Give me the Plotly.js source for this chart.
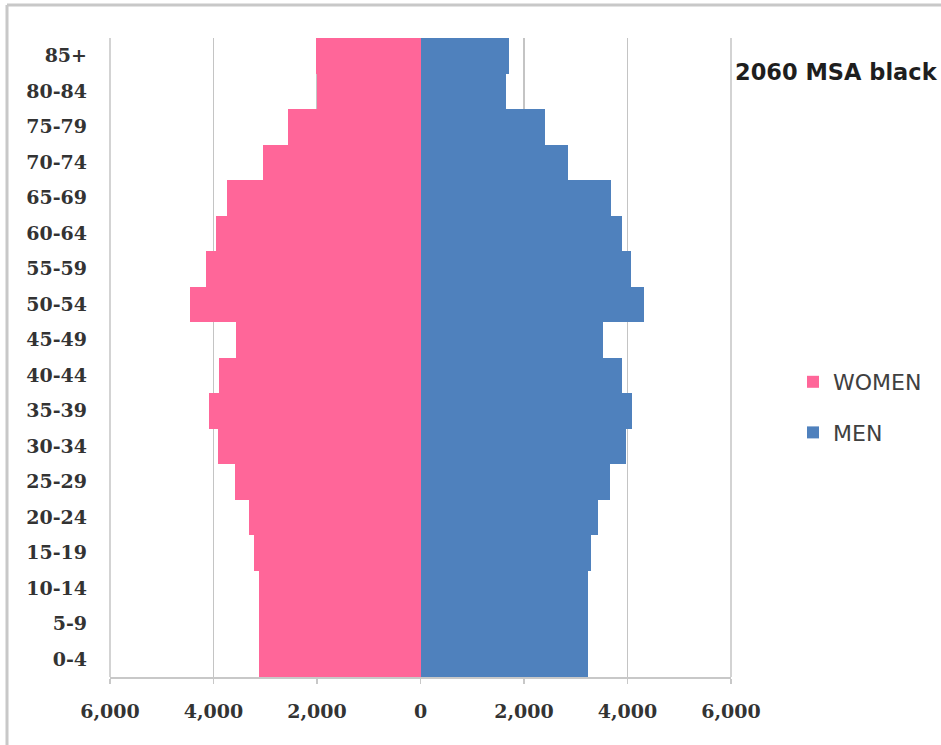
<!DOCTYPE html>
<html>
<head>
<meta charset="utf-8">
<script src="https://cdn.plot.ly/plotly-3.0.1.min.js"></script>
<style>
  html, body { margin: 0; padding: 0; background: #ffffff; }
  #chart { width: 941px; height: 745px; }
</style>
</head>
<body>
<div id="chart"></div>
<script>
// Age groups, bottom to top
const ageGroups = ["0-4","5-9","10-14","15-19","20-24","25-29","30-34","35-39","40-44",
                   "45-49","50-54","55-59","60-64","65-69","70-74","75-79","80-84","85+"];
// Population counts
const women = [3120, 3130, 3130, 3210, 3320, 3580, 3920, 4080, 3890,
               3570, 4450, 4150, 3950, 3730, 3050, 2570, 2000, 2010];
const men   = [3230, 3240, 3240, 3300, 3430, 3670, 3970, 4090, 3900,
               3530, 4310, 4060, 3900, 3690, 2850, 2400, 1660, 1710];
// X tick values and labels
const xTickVals = [-6000, -4000, -2000, 0, 2000, 4000, 6000];
const xTickText = ["6,000", "4,000", "2,000", "0", "2,000", "4,000", "6,000"];
const chartTitle = "2060 MSA black";

const traces = [
  {
    type: "bar", orientation: "h", name: "WOMEN", legendgroup: "w",
    y: ageGroups, x: women.map(v => -v),
    marker: { color: "#FF6699", line: { width: 0 } },
    hoverinfo: "y+text", text: women.map(String), textposition: "none"
  },
  {
    type: "bar", orientation: "h", name: "MEN", legendgroup: "m",
    y: ageGroups, x: men,
    marker: { color: "#4F81BD", line: { width: 0 } },
    hoverinfo: "y+x"
  }
];

const L = 110, R = 731, T = 38, B = 677, W = 941, H = 745;
const px2x = p => (p - L) / (R - L);
const px2y = p => (B - p) / (B - T);

const tickFont = { family: "DejaVu Serif", size: 19, color: "#333333", weight: "bold" };

const layout = {
  width: W, height: H,
  margin: { l: L, r: W - R, t: T, b: H - B, pad: 0 },
  paper_bgcolor: "#ffffff", plot_bgcolor: "#ffffff",
  barmode: "relative", bargap: 0,
  showlegend: true,
  legend: {
    x: px2x(793), y: px2y(361), xanchor: "left", yanchor: "top",
    traceorder: "grouped", tracegroupgap: 19,
    font: { family: "DejaVu Sans", size: 22, color: "#404040" },
    bgcolor: "rgba(0,0,0,0)"
  },
  xaxis: {
    range: [-6000, 6000], fixedrange: true,
    tickmode: "array", tickvals: xTickVals, ticktext: xTickText,
    showgrid: true, gridcolor: "#c4c4c4", gridwidth: 1.5,
    zeroline: false,
    showline: true, linecolor: "#c8c8c8", linewidth: 2,
    ticks: "outside", ticklen: 5, tickcolor: "#c8c8c8", tickwidth: 1.5,
    ticklabelstandoff: 11,
    tickfont: tickFont
  },
  yaxis: {
    type: "category", categoryorder: "array", categoryarray: ageGroups,
    fixedrange: true,
    showgrid: false, zeroline: false,
    showline: false, ticks: "",
    ticklabelstandoff: 22,
    tickfont: tickFont
  },
  annotations: [
    {
      text: chartTitle, showarrow: false,
      xref: "paper", yref: "paper", x: px2x(733), y: px2y(72),
      xanchor: "left", yanchor: "middle",
      font: { family: "DejaVu Sans", size: 22.5, color: "#1e1e1e", weight: "bold" }
    }
  ],
  shapes: [
    { type: "line", xref: "paper", yref: "paper", x0: px2x(7), x1: px2x(W + 5), y0: px2y(5), y1: px2y(5),
      line: { color: "#c8c8c8", width: 3 } },
    { type: "line", xref: "paper", yref: "paper", x0: px2x(7), x1: px2x(7), y0: px2y(5), y1: px2y(H + 5),
      line: { color: "#c8c8c8", width: 3 } },
    { type: "line", xref: "paper", yref: "paper", x0: 0, x1: 0, y0: 0, y1: 1,
      line: { color: "#c4c4c4", width: 1.5 }, layer: "below" },
    { type: "line", xref: "paper", yref: "paper", x0: 1, x1: 1, y0: 0, y1: 1,
      line: { color: "#c4c4c4", width: 1.5 }, layer: "below" }
  ]
};

Plotly.newPlot("chart", traces, layout, { staticPlot: true, displayModeBar: false });
</script>
</body>
</html>
